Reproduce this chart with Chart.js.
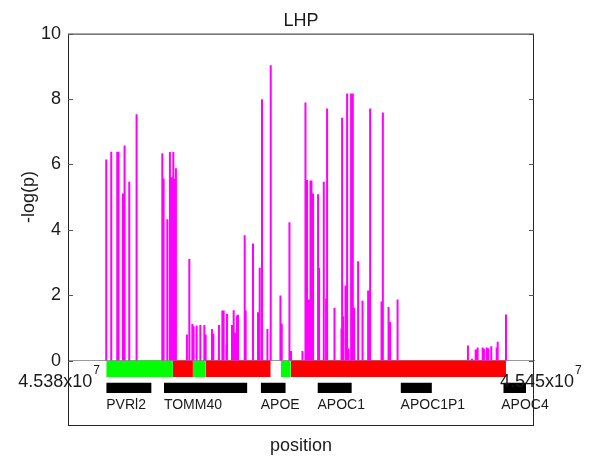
<!DOCTYPE html>
<html>
<head>
<meta charset="utf-8">
<script src="https://cdn.jsdelivr.net/npm/chart.js@4.4.1/dist/chart.umd.min.js"></script>
<style>
  body { margin: 0; background: #fff; }
  #wrap { width: 589px; height: 456px; }
</style>
</head>
<body>
<div id="wrap"><canvas id="lhp"></canvas></div>
<script>
// SNP positions (bp) and -log(p)
var snpPos = [
  45385745, 45386496, 45387399, 45387594, 45388241, 45388496, 45389203, 45390301,
  45394166, 45394361, 45394918, 45395309, 45395609, 45395820, 45396015, 45396211,
  45397865, 45398226, 45398677, 45398873, 45399324, 45399880, 45400482, 45400677,
  45401625, 45401835, 45402677, 45403189, 45403384, 45403790, 45403880, 45404632,
  45404888, 45405083, 45405384, 45405535, 45406542, 45406692, 45407790, 45408542,
  45408798, 45409144, 45409956, 45410452, 45411911, 45412106, 45413264, 45413505,
  45415219, 45415670, 45415911, 45416121, 45416212, 45416422, 45416572, 45416813,
  45417565, 45417715, 45418422, 45418768, 45418918, 45420031, 45421084, 45421174,
  45421324, 45421685, 45421926, 45422136, 45422527, 45422783, 45422979, 45423580,
  45424242, 45425084, 45425385, 45427099, 45427295, 45428152, 45428392, 45429505,
  45440077, 45440678, 45441235, 45441535, 45442287, 45442483, 45442889, 45443130,
  45443581, 45444393, 45444543, 45445791
];
var snpLogP = [
  6.15, 6.39, 6.39, 6.39, 5.11, 6.58, 5.47, 7.53,
  6.34, 5.57, 4.32, 6.38, 5.61, 6.38, 5.56, 5.88,
  0.80, 3.11, 1.12, 1.05, 1.07, 1.09, 1.09, 0.80,
  0.97, 0.82, 1.09, 1.53, 1.53, 0.49, 1.43, 1.09,
  1.54, 0.85, 1.38, 1.40, 3.83, 1.53, 3.58, 1.48,
  2.84, 7.99, 0.97, 9.03, 1.99, 1.13, 4.23, 0.29,
  0.29, 7.89, 5.52, 1.58, 1.87, 5.51, 5.51, 5.11,
  5.09, 2.84, 5.47, 1.90, 7.71, 1.62, 0.98, 7.43,
  1.36, 2.30, 8.17, 0.37, 8.17, 8.17, 1.62, 3.04,
  1.83, 2.14, 7.71, 1.81, 7.59, 1.64, 1.18, 1.87,
  0.46, 0.06, 0.34, 0.40, 0.40, 0.36, 0.40, 0.38,
  0.44, 0.40, 0.58, 1.41
];

// green / red blocks under the axis
var blockStart = [45385745, 45395760, 45398767, 45400632, 45411955, 45413460];
var blockEnd   = [45395760, 45398767, 45400632, 45410452, 45413460, 45445791];
var blockColor = ['#00ff00', '#ff0000', '#00ff00', '#ff0000', '#00ff00', '#ff0000'];

// genes
var geneName  = ['PVRl2', 'TOMM40', 'APOE', 'APOC1', 'APOC1P1', 'APOC4'];
var geneStart = [45385745, 45394406, 45408948, 45417475, 45429956, 45445385];
var geneEnd   = [45392557, 45406948, 45412708, 45422633, 45434664, 45448798];

var yTicks = [0, 2, 4, 6, 8, 10];
var xTicks = [45380000, 45450000];
var xTickText = ['4.538x10', '4.545x10'];
var xTickExp = ['7', '7'];

var fam = '"Liberation Sans", Arial, Helvetica, sans-serif';
Chart.defaults.font.family = fam;

var datasets = [];

// stems: each one is a small segment, null breaks the line
var stemPts = [];
snpPos.forEach(function(p, i) {
  stemPts.push({x: p, y: 0});
  stemPts.push({x: p, y: snpLogP[i]});
  stemPts.push({x: p, y: null});
});
datasets.push({
  data: stemPts,
  borderColor: '#ff00ff',
  borderWidth: 2,
  borderCapStyle: 'butt',
  pointRadius: 0,
  spanGaps: false,
  fill: false
});

blockStart.forEach(function(s, i) {
  datasets.push({
    data: [{x: s, y: -0.5}, {x: blockEnd[i], y: -0.5}],
    borderWidth: 0,
    borderColor: 'rgba(0,0,0,0)',
    backgroundColor: blockColor[i],
    pointRadius: 0,
    fill: {value: 0}
  });
});

geneStart.forEach(function(s, i) {
  datasets.push({
    data: [{x: s, y: -0.99}, {x: geneEnd[i], y: -0.99}],
    borderWidth: 0,
    borderColor: 'rgba(0,0,0,0)',
    backgroundColor: '#000000',
    pointRadius: 0,
    fill: {value: -0.68}
  });
});

var extras = {
  id: 'extras',
  afterDatasetsDraw: function(chart) {
    var ctx = chart.ctx, a = chart.chartArea;
    var xs = chart.scales.x, ys = chart.scales.y;
    ctx.save();
    // box
    ctx.strokeStyle = '#262626';
    ctx.lineWidth = 1;
    ctx.strokeRect(a.left + 0.5, a.top + 0.5, a.right - a.left - 1, a.bottom - a.top - 1);
    // inward ticks
    ctx.strokeStyle = '#555';
    yTicks.forEach(function(v) {
      var y = Math.round(ys.getPixelForValue(v)) + 0.5;
      ctx.beginPath();
      ctx.moveTo(a.left, y); ctx.lineTo(a.left + 5, y);
      ctx.moveTo(a.right, y); ctx.lineTo(a.right - 5, y);
      ctx.stroke();
    });
    // x tick labels with exponent
    ctx.fillStyle = '#1a1a1a';
    ctx.textBaseline = 'alphabetic';
    ctx.textAlign = 'left';
    var yBase = ys.getPixelForValue(0) + 26;
    xTicks.forEach(function(v, i) {
      var px = xs.getPixelForValue(v);
      ctx.font = '18px ' + fam;
      var w1 = ctx.measureText(xTickText[i]).width;
      ctx.font = '12px ' + fam;
      var w2 = ctx.measureText(xTickExp[i]).width;
      var x0 = i === 0 ? px + 32 - w1 - w2 - 1 : px - 34;
      ctx.font = '18px ' + fam;
      ctx.fillText(xTickText[i], x0, yBase);
      ctx.font = '12px ' + fam;
      ctx.fillText(xTickExp[i], x0 + w1 + 1, yBase - 13);
    });
    // gene labels
    ctx.font = '14px ' + fam;
    ctx.fillStyle = '#1a1a1a';
    var gy = ys.getPixelForValue(-1.47);
    geneName.forEach(function(n, i) {
      ctx.fillText(n, xs.getPixelForValue(geneStart[i]) - (i === 5 ? 2 : 0), gy);
    });
    ctx.restore();
  },
  afterDraw: function(chart) {
    var ctx = chart.ctx, a = chart.chartArea, ys = chart.scales.y;
    ctx.save();
    ctx.fillStyle = '#1a1a1a';
    ctx.font = '18px ' + fam;
    ctx.textAlign = 'center';
    ctx.textBaseline = 'alphabetic';
    ctx.fillText('position', (a.left + a.right) / 2, a.bottom + 25);
    var midY = (ys.getPixelForValue(0) + ys.getPixelForValue(10)) / 2;
    ctx.translate(34, midY);
    ctx.rotate(-Math.PI / 2);
    ctx.fillText('-log(p)', 0, 0);
    ctx.restore();
  }
};

new Chart(document.getElementById('lhp'), {
  type: 'line',
  data: { datasets: datasets },
  plugins: [extras],
  options: {
    responsive: true,
    maintainAspectRatio: false,
    animation: false,
    devicePixelRatio: 1,
    layout: { padding: { left: 0, right: 55, top: 0, bottom: 30 } },
    plugins: {
      legend: { display: false },
      tooltip: { enabled: false },
      title: {
        display: true,
        text: 'LHP',
        fullSize: false,
        color: '#1a1a1a',
        font: { size: 18, weight: 'normal' },
        padding: { top: 10, bottom: 2 }
      }
    },
    scales: {
      x: {
        type: 'linear',
        position: { y: 0 },
        min: 45380000,
        max: 45450000,
        grid: { display: false },
        ticks: { display: false },
        border: { display: true, color: '#999', width: 1 }
      },
      y: {
        type: 'linear',
        position: 'left',
        min: -2,
        max: 10,
        grid: { display: false, drawTicks: false },
        border: { display: false },
        afterBuildTicks: function(scale) {
          scale.ticks = yTicks.map(function(v) { return {value: v}; });
        },
        afterFit: function(scale) { scale.width = 68; },
        ticks: {
          color: '#1a1a1a',
          padding: 7,
          font: { size: 18 }
        }
      }
    }
  }
});
</script>
</body>
</html>
